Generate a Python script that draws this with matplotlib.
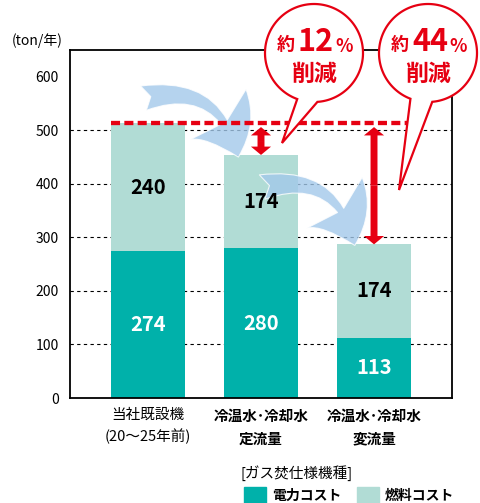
import numpy as np
import matplotlib.pyplot as plt
from matplotlib.patches import FancyArrowPatch, Polygon, Rectangle

plt.rcParams['font.family'] = ['Noto Sans CJK JP', 'DejaVu Sans']

#
# Data
#
categories = ['当社既設機\n(20〜25年前)', '冷温水･冷却水\n定流量', '冷温水･冷却水\n変流量']
power_cost = [274, 280, 113]
fuel_cost = [240, 174, 174]
series_names = ['電力コスト', '燃料コスト']
legend_title = '[ガス焚仕様機種]'
unit_label = '(ton/年)'
reductions = ['12', '44']
yticks = [0, 100, 200, 300, 400, 500, 600]

TEAL = '#00b1aa'
LIGHT = '#b1dcd5'
RED = '#e60012'
BLUE = '#a3c8ea'

W, H = 480, 503
fig = plt.figure(figsize=(W / 100, H / 100), dpi=100)
ax = fig.add_axes([70 / W, 105 / H, 382 / W, 348 / H])

x = np.arange(len(categories))
totals = np.array(power_cost) + np.array(fuel_cost)
bw = 0.655

#
# Stacked bars
#
ax.bar(x, power_cost, bw, color=TEAL, zorder=2)
ax.bar(x, fuel_cost, bw, bottom=power_cost, color=LIGHT, zorder=2)
for i in range(len(x)):
    ax.text(x[i], power_cost[i] / 2, str(power_cost[i]), color='white',
            fontsize=14.5, weight='bold', ha='center', va='center', zorder=5)
    ax.text(x[i], power_cost[i] + fuel_cost[i] / 2, str(fuel_cost[i]), color='black',
            fontsize=14.5, weight='bold', ha='center', va='center', zorder=5)

for y in yticks[1:-1]:
    ax.axhline(y, color='black', lw=0.8, ls=(0, (3, 3)), zorder=1)

ax.set_xlim(-0.69, 2.69)
ax.set_ylim(0, 650)
ax.set_yticks(yticks)
ax.set_yticklabels([str(v) for v in yticks], fontsize=10)
ax.tick_params(axis='y', length=0, pad=8)
ax.set_xticks([])
for s in ax.spines.values():
    s.set_linewidth(1.3)

for i, lab in enumerate(categories):
    ax.text(x[i], -18, lab, ha='center', va='top', fontsize=10.5,
            weight='normal' if i == 0 else 'bold', linespacing=1.55)

#
# Reference line and reduction arrows
#
ax.plot([x[0] - bw / 2, x[2] + bw / 2], [totals[0]] * 2, color=RED, lw=3.1,
        ls=(0, (2.1, 1.0)), zorder=6)
for i in [1, 2]:
    top = totals[0] - 8
    mid = (top + totals[i]) / 2
    for end in [top, totals[i]]:
        ax.add_patch(FancyArrowPatch((x[i], mid), (x[i], end),
                                     arrowstyle='simple,head_length=0.6,head_width=1.45,tail_width=0.5',
                                     mutation_scale=10, color=RED, lw=0,
                                     shrinkA=0, shrinkB=0, zorder=6))

# curved blue arrows from bar to bar
arrow_paths = [((x[0] - 0.04, totals[0] + 46), (x[1] - 0.2, totals[1] - 4)),
               ((x[1] + 0.01, totals[1] - 60), (x[2] - 0.17, totals[2] - 2))]
for start, end in arrow_paths:
    ax.add_patch(FancyArrowPatch(start, end, connectionstyle='arc3,rad=-0.5',
                                 arrowstyle='fancy,head_length=1.7,head_width=2.7,tail_width=0.9',
                                 mutation_scale=20, facecolor=BLUE, edgecolor='white',
                                 lw=0.8, alpha=0.8, shrinkA=0, shrinkB=0, zorder=4,
                                 clip_on=False))

#
# Overlay in pixel units for bubbles and legend
#
ov = fig.add_axes([0, 0, 1, 1])
ov.set_xlim(0, W)
ov.set_ylim(H, 0)
ov.axis('off')

def bubble(cx, cy, r, a_right, a_left, tip):
    th = np.radians(np.linspace(a_right, a_left - 360, 200))
    pts = np.column_stack([cx + r * np.cos(th), cy + r * np.sin(th)])
    pts = np.vstack([pts, tip])
    ov.add_patch(Polygon(pts, closed=True, facecolor='white', edgecolor=RED, lw=1.6))

bubbles = [(314, 53, 49, 86, 110, (282, 143)), (428, 53, 49, 85, 111, (399, 190))]
for (cx, cy, r, ar, al, tip), pct in zip(bubbles, reductions):
    bubble(cx, cy, r, ar, al, tip)
    ov.text(cx - 28, cy - 9, '約', color=RED, fontsize=13, weight='bold', ha='center', va='center')
    ov.text(cx + 2, cy - 11, pct, color=RED, fontsize=22, weight='bold', ha='center', va='center')
    ov.text(cx + 30, cy - 7, '%', color=RED, fontsize=13, weight='bold', ha='center', va='center')
    ov.text(cx, cy + 21, '削減', color=RED, fontsize=16.5, weight='bold', ha='center', va='center')

ov.text(37, 41, unit_label, fontsize=10, ha='center', va='center')

# legend
ov.text(241, 473, legend_title, fontsize=10.5, ha='left', va='center')
for (lx, col), name in zip([(244, TEAL), (357, LIGHT)], series_names):
    ov.add_patch(Rectangle((lx, 487), 22, 18, color=col))
    ov.text(lx + 28, 496, name, fontsize=10, weight='bold', ha='left', va='center')

fig.savefig('out.png', dpi=100)
